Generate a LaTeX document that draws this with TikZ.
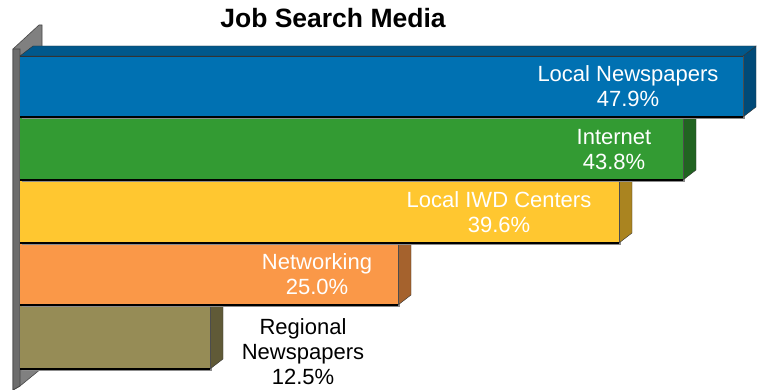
\documentclass[tikz,border=0pt]{standalone}
\usepackage{fontspec}
\setmainfont{Liberation Sans}
\definecolor{cblue}{RGB}{0,113,178}
\definecolor{cbluetop}{RGB}{0,88,140}
\definecolor{cblueside}{RGB}{0,74,120}
\definecolor{cgreen}{RGB}{51,155,51}
\definecolor{cgreenside}{RGB}{33,100,33}
\definecolor{cyellow}{RGB}{255,199,48}
\definecolor{cyellowside}{RGB}{170,132,32}
\definecolor{corange}{RGB}{250,152,72}
\definecolor{corangeside}{RGB}{165,98,45}
\definecolor{colive}{RGB}{150,140,86}
\definecolor{colivese}{RGB}{96,90,55}
\definecolor{cwall}{RGB}{128,128,128}
\definecolor{cwalldark}{RGB}{70,70,70}
\newcommand{\jsbar}[5]{% top, bottom, right, front colour, side colour
  \fill[black!45] (22,#1+2) rectangle (#3+2,#2+2);
  \fill[#5, draw=black!80, line width=0.4pt] (#3,#1) -- (#3+13,#1-10) -- (#3+13,#2-10) -- (#3,#2) -- cycle;
  \fill[#4] (20,#1) rectangle (#3,#2);
  \draw[black!70, line width=0.5pt] (#3,#1) -- (#3,#2);
  \draw[black, line width=1.2pt] (20,#2) -- (#3,#2);
}
\begin{document}
\begin{tikzpicture}[x=1pt,y=-1pt,
  lbl/.style={text=white, font=\fontsize{22}{25}\selectfont, align=center, inner sep=0pt},
  lbldark/.style={text=black, font=\fontsize{22}{25}\selectfont, align=center, inner sep=0pt},
  ttl/.style={text=black, font=\fontsize{26.5}{30}\selectfont\bfseries, inner sep=0pt}]
\useasboundingbox (0,0) rectangle (763,390);
% wall
\fill[cwall, draw=cwalldark, line width=0.6pt] (13,49) -- (39,25) -- (42,25) -- (42,368) -- (20,386) -- (13,390) -- cycle;
\fill[cwall!85!black, draw=cwalldark, line width=0.8pt] (13,49) -- (20,49) -- (20,386) -- (13,390) -- cycle;
% bars, back (bottom) to front (top)
\jsbar{305}{369}{210}{colive}{colivese}
\jsbar{243}{305}{398}{corange}{corangeside}
\jsbar{180}{243}{619}{cyellow}{cyellowside}
\jsbar{117}{180}{683}{cgreen}{cgreenside}
\jsbar{56}{117}{743}{cblue}{cblueside}
\fill[cbluetop, draw=black!80, line width=0.4pt] (20,56) -- (33,46) -- (756,46) -- (743,56) -- cycle;
\draw[black!80, line width=0.5pt] (20,56) -- (743,56);
% labels
\node[ttl] (title) at (333,18) {Job Search Media};
\node[lbl] (l1) at (628,86) {Local Newspapers\\47.9\%};
\node[lbl] (l2) at (614,150) {Internet\\43.8\%};
\node[lbl] (l3) at (499,212) {Local IWD Centers\\39.6\%};
\node[lbl] (l4) at (317,274) {Networking\\25.0\%};
\node[lbldark] (l5) at (303,352) {Regional\\Newspapers\\12.5\%};
\end{tikzpicture}
\end{document}
